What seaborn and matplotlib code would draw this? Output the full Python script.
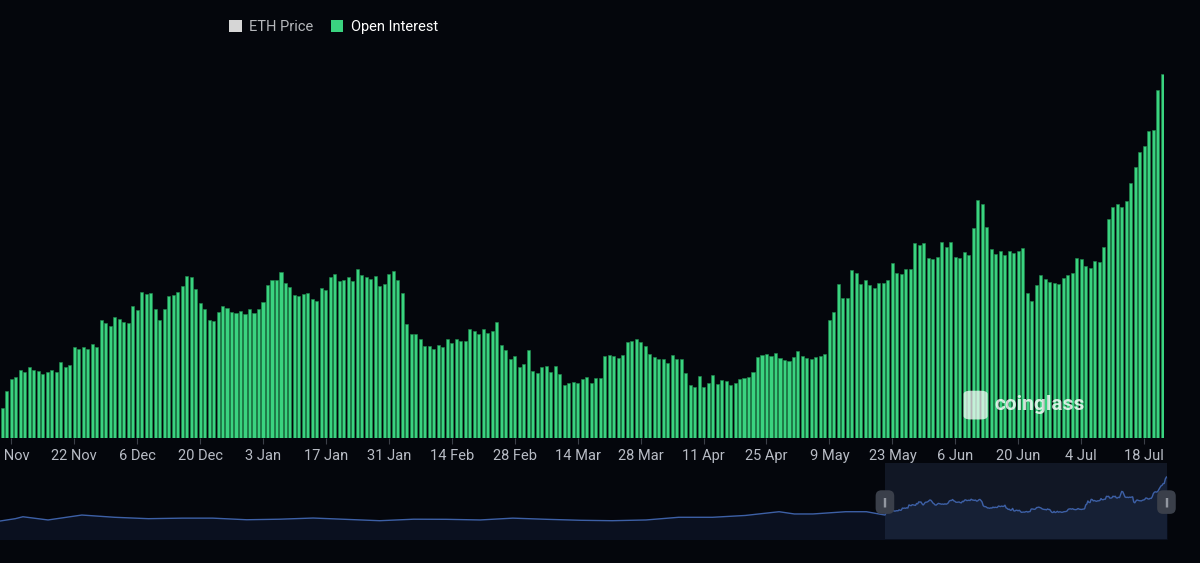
import pandas as pd
import seaborn as sns
import matplotlib.pyplot as plt
from matplotlib.patches import Patch, FancyBboxPatch

# ETH open interest (USD bn), daily from 6 Nov 2024 to 22 Jul 2025, split by month
oi_nov = [22.4, 24.2, 25.5, 25.7, 26.5, 26.2, 26.8, 26.5, 26.4, 26.0, 26.3, 26.5, 26.3,
          27.3, 26.8, 27.0, 28.9, 28.7, 28.9, 28.7, 29.2, 28.9, 31.8, 31.4, 31.1]
oi_dec = [32.1, 31.9, 31.6, 31.4, 33.2, 32.8, 34.7, 34.5, 34.6, 32.9, 31.8, 32.9, 34.3,
          34.4, 34.7, 35.4, 36.4, 36.3, 35.1, 33.6, 32.9, 31.8, 31.7, 32.6, 33.3, 33.0,
          32.6, 32.5, 32.7, 32.4, 32.9]
oi_jan = [32.5, 32.9, 33.7, 35.5, 36.0, 36.0, 36.9, 35.7, 35.3, 34.4, 34.3, 34.5, 34.6,
          34.0, 33.8, 35.2, 34.9, 36.3, 36.6, 35.9, 36.0, 36.3, 35.9, 37.2, 36.5, 36.3,
          36.1, 36.4, 35.4, 35.6, 36.6]
oi_feb = [37.0, 36.0, 34.6, 31.3, 30.3, 30.3, 29.8, 29.0, 29.0, 28.7, 29.1, 28.9, 29.8,
          29.3, 29.7, 29.5, 29.5, 30.8, 30.6, 30.3, 30.8, 30.4, 30.6, 31.6, 29.1, 28.6,
          27.6, 27.9]
oi_mar = [26.8, 27.1, 28.6, 26.4, 26.1, 26.8, 26.9, 26.3, 26.9, 26.0, 24.9, 25.1, 25.2,
          25.1, 25.5, 25.7, 25.1, 25.6, 25.6, 28.0, 28.1, 27.9, 27.7, 28.1, 29.4, 29.5,
          29.8, 29.4, 29.0, 28.2, 27.8]
oi_apr = [27.6, 27.6, 27.2, 28.1, 27.6, 27.6, 26.1, 24.9, 24.7, 25.8, 24.7, 25.1, 25.9,
          25.0, 25.4, 25.3, 24.9, 25.1, 25.5, 25.6, 25.7, 26.3, 27.8, 28.1, 28.2, 27.9,
          28.3, 27.7, 27.5, 27.4]
oi_may = [27.8, 28.5, 27.9, 27.7, 27.6, 27.8, 27.9, 28.2, 31.8, 32.6, 35.6, 34.1, 34.1,
          37.1, 36.8, 35.6, 36.0, 35.5, 35.2, 35.7, 35.7, 36.0, 37.8, 36.8, 36.7, 37.2,
          37.2, 39.9, 39.7, 39.9, 38.3]
oi_jun = [38.2, 38.5, 40.0, 39.5, 40.0, 38.5, 38.3, 39.0, 38.7, 41.5, 44.5, 44.1, 41.6,
          39.3, 38.8, 39.1, 38.7, 39.1, 38.9, 39.1, 39.4, 34.6, 33.8, 35.5, 36.5, 36.1,
          35.8, 35.7, 35.6, 36.2]
oi_jul = [36.5, 36.8, 38.3, 38.2, 37.5, 37.3, 38.0, 37.9, 39.5, 42.5, 43.8, 44.1, 43.8,
          44.4, 46.3, 48.0, 49.6, 50.2, 51.8, 51.9, 56.2, 57.9]

# longer history shown in the navigator strip
hist_dates = ["2022-08-18", "2022-09-01", "2022-09-08", "2022-10-01", "2022-11-01",
              "2022-12-01", "2023-01-01", "2023-02-01", "2023-03-01", "2023-04-01",
              "2023-05-01", "2023-06-01", "2023-07-01", "2023-08-01", "2023-09-01",
              "2023-10-01", "2023-11-01", "2023-12-01", "2024-01-01", "2024-02-01",
              "2024-03-01", "2024-04-01", "2024-05-01", "2024-06-01", "2024-07-01",
              "2024-08-01", "2024-08-15", "2024-09-01", "2024-10-01", "2024-10-20"]
hist_oi = [16.8, 19.0, 20.8, 17.8, 22.4, 20.3, 19.0, 19.5, 19.5, 18.0,
           18.5, 19.6, 18.4, 17.1, 18.5, 18.4, 17.8, 19.5, 18.4, 17.5,
           17.1, 17.8, 20.3, 20.3, 22.0, 25.5, 23.4, 23.4, 25.5, 25.5]

oi = oi_nov + oi_dec + oi_jan + oi_feb + oi_mar + oi_apr + oi_may + oi_jun + oi_jul
dates = pd.date_range("2024-11-06", periods=len(oi), freq="D")
df = pd.DataFrame({"date": dates, "oi": oi})
df["day"] = df["date"].dt.strftime("%Y-%m-%d")

nav_df = pd.concat([
    pd.DataFrame({"date": pd.to_datetime(hist_dates), "oi": hist_oi}),
    df[["date", "oi"]],
], ignore_index=True)

bg = "#04060c"
green = "#3ad380"

plt.rcParams["font.family"] = ["Roboto", "DejaVu Sans"]

fig = plt.figure(figsize=(12, 5.63), dpi=100, facecolor=bg)

# main bars
ax = fig.add_axes([0, 0.2229, 0.9703, 0.6705], facecolor=bg)
sns.barplot(data=df, x="day", y="oi", color=green, saturation=1, width=0.68,
            edgecolor="#1f8a4d", linewidth=0.4, ax=ax)
ax.set_xlim(-0.5, len(oi) - 0.5)
ax.set_ylim(19.3, 59.35)
ax.set_yticks([])
ax.set_xlabel("")
ax.set_ylabel("")
for s in ax.spines.values():
    s.set_visible(False)

tick_dates = pd.date_range("2024-11-08", dates[-1], freq="14D")
ax.set_xticks([(d - dates[0]).days for d in tick_dates])
ax.set_xticklabels([f"{d.day} {d:%b}" for d in tick_dates])
ax.tick_params(axis="x", colors="#3c4049", labelcolor="#b8bcc5", length=4,
               width=0.8, labelsize=10.5, pad=4)

# legend
leg = fig.legend(handles=[Patch(facecolor="#d6d6d6"), Patch(facecolor=green)],
                 labels=["ETH Price", "Open Interest"], loc="center",
                 bbox_to_anchor=(0.278, 0.952), ncol=2, frameon=False,
                 handlelength=0.85, handleheight=0.85, handletextpad=0.5,
                 columnspacing=1.2, fontsize=10.5)
leg.get_texts()[0].set_color("#b5b7bb")
leg.get_texts()[1].set_color("white")

# watermark
fig.patches.append(FancyBboxPatch((0.806, 0.258), 0.014, 0.045,
                                  boxstyle="round,pad=0.003,rounding_size=0.006",
                                  transform=fig.transFigure, fc="white", ec="none",
                                  alpha=0.7))
fig.text(0.829, 0.281, "coinglass", fontsize=15, fontweight="bold",
         color="white", alpha=0.8, ha="left", va="center")

# navigator
nav = fig.add_axes([0, 0.0426, 0.9725, 0.135], facecolor=bg)
nav.fill_between(nav_df["date"], nav_df["oi"], color="#0a101f")
sns.lineplot(data=nav_df, x="date", y="oi", color="#3d60a6", linewidth=1.0, ax=nav)
nav.axvspan(dates[0], dates[-1] + pd.Timedelta(hours=12), color="#6d8cd0",
            alpha=0.13, lw=0)
nav.set_xlim(nav_df["date"].iloc[0], dates[-1] + pd.Timedelta(hours=12))
nav.set_ylim(0, 71)
nav.axis("off")
for d in [dates[0], dates[-1]]:
    nav.text(d, 34.5, "||", ha="center", va="center", fontsize=7,
             color="#c8ccd4", clip_on=False,
             bbox=dict(boxstyle="round,pad=0.7,rounding_size=0.6",
                       fc="#3a3f4a", ec="none"))

fig.savefig("out.png", dpi=100, facecolor=bg)
